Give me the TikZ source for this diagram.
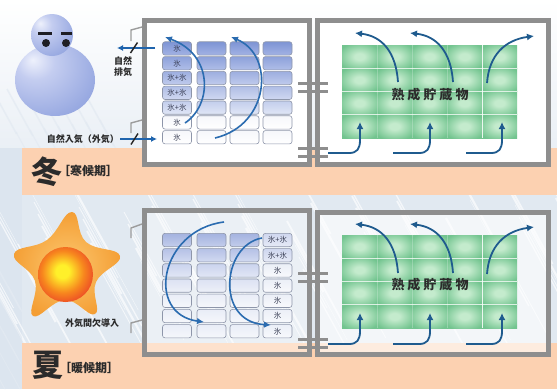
\documentclass[tikz,border=0pt]{standalone}
\usepackage{fontspec}
\newfontfamily\jp{Noto Sans CJK JP}
\usetikzlibrary{arrows.meta}

\definecolor{wallgray}{HTML}{8E8E8E}
\definecolor{flapgray}{HTML}{9C9C9C}
\definecolor{peach}{HTML}{FCD1B1}
\definecolor{arcblue}{HTML}{2B6CB0}
\definecolor{flowblue}{HTML}{1F5B8E}
\definecolor{ventblue}{HTML}{1F64AD}
\definecolor{cellline}{HTML}{8E96AA}
\definecolor{celltext}{HTML}{3A3F55}
\definecolor{textdark}{HTML}{2B2B2B}
\definecolor{greenmid}{HTML}{72C48F}
\definecolor{greenin}{HTML}{C4EBCD}
\definecolor{icebg}{HTML}{DCE5EF}
\definecolor{eyecol}{HTML}{1E1E24}
\definecolor{starin}{HTML}{FCC870}
\definecolor{starout}{HTML}{F49E34}
% stored-goods block shading: soft light centre, even green rim
\pgfdeclareradialshading{greenspot}{\pgfpoint{0bp}{0bp}}{color(0bp)=(greenin); color(7bp)=(greenin); color(31bp)=(greenmid); color(100bp)=(greenmid)}
% snowman shading
\definecolor{snowhi}{HTML}{EEF1FC}
\definecolor{snowmid}{HTML}{C4CDF0}
\definecolor{snowlo}{HTML}{98A9E1}
\definecolor{snowedge}{HTML}{8698D6}
\pgfdeclareradialshading{snowball}{\pgfpoint{-14bp}{14bp}}{color(0bp)=(snowhi); color(12bp)=(snowmid); color(36bp)=(snowlo); color(52bp)=(snowedge); color(100bp)=(snowedge)}
% sun shading
\definecolor{sunY}{HTML}{FFF02A}
\definecolor{sunO}{HTML}{F7861E}
\definecolor{sunR}{HTML}{E8322A}
\definecolor{sunRR}{HTML}{D61F1F}
\pgfdeclareradialshading{sunball}{\pgfpoint{-3bp}{3bp}}{color(0bp)=(sunY); color(6bp)=(sunY); color(19bp)=(sunO); color(33bp)=(sunR); color(50bp)=(sunRR); color(100bp)=(sunRR)}
% ice trays, cold season
\definecolor{wt1}{HTML}{7E94D5}\definecolor{wb1}{HTML}{A2B2E3}
\definecolor{wt2}{HTML}{8DA1DA}\definecolor{wb2}{HTML}{B0BEE8}
\definecolor{wt3}{HTML}{9DAEDF}\definecolor{wb3}{HTML}{C0CBED}
\definecolor{wt4}{HTML}{AFBDE5}\definecolor{wb4}{HTML}{D0D8F1}
\definecolor{wt5}{HTML}{C3CEEC}\definecolor{wb5}{HTML}{E0E6F6}
\definecolor{wt6}{HTML}{F6F7FB}\definecolor{wb6}{HTML}{FFFFFF}
\definecolor{wt7}{HTML}{F6F7FB}\definecolor{wb7}{HTML}{FFFFFF}
% ice trays, warm season
\definecolor{st1}{HTML}{A4B3DF}\definecolor{sb1}{HTML}{C3CDEC}
\definecolor{st2}{HTML}{B5C1E6}\definecolor{sb2}{HTML}{D2DAF1}
\definecolor{st3}{HTML}{CBD4EE}\definecolor{sb3}{HTML}{E1E6F5}
\definecolor{st4}{HTML}{DCE2F3}\definecolor{sb4}{HTML}{EDF0F8}
\definecolor{st5}{HTML}{E9EDF7}\definecolor{sb5}{HTML}{F5F7FB}
\definecolor{st6}{HTML}{E9EDF7}\definecolor{sb6}{HTML}{F5F7FB}
\definecolor{st7}{HTML}{E9EDF7}\definecolor{sb7}{HTML}{F5F7FB}
\definecolor{qt1}{HTML}{CFD7EF}\definecolor{qb1}{HTML}{E6EAF6}
\definecolor{qt2}{HTML}{CFD7EF}\definecolor{qb2}{HTML}{E6EAF6}
\definecolor{qt3}{HTML}{EBEFF7}\definecolor{qb3}{HTML}{F8F9FC}
\definecolor{qt4}{HTML}{EBEFF7}\definecolor{qb4}{HTML}{F8F9FC}
\definecolor{qt5}{HTML}{EBEFF7}\definecolor{qb5}{HTML}{F8F9FC}
\definecolor{qt6}{HTML}{EBEFF7}\definecolor{qb6}{HTML}{F8F9FC}
\definecolor{qt7}{HTML}{EBEFF7}\definecolor{qb7}{HTML}{F8F9FC}

\begin{document}
\begin{tikzpicture}[x=1pt,y=-1pt,
  wall/.style={draw=wallgray,line width=5pt},
  tee/.style={draw=wallgray,line width=3pt},
  flap/.style={draw=flapgray,line width=1.4pt},
  vent/.style={draw=ventblue,line width=1.7pt,-{Latex[length=6pt,width=6pt]}},
  slashmark/.style={draw=black!85,line width=1.4pt},
  arcflow/.style={draw=arcblue,line width=1.6pt,-{Latex[length=7pt,width=6.5pt]}},
  flow/.style={draw=flowblue,line width=1.8pt,-{Latex[length=7pt,width=7pt]}},
  icecell/.style={draw=cellline,line width=0.6pt,rounded corners=2.5pt,
    minimum width=29pt,minimum height=13.3pt,inner sep=0pt,
    font=\jp\fontsize{7.5}{8}\selectfont,text=celltext},
  lbl/.style={inner sep=0pt,font=\jp\bfseries\fontsize{9}{10}\selectfont,text=textdark},
  season/.style={inner sep=0pt,font=\jp\bfseries\fontsize{31}{31}\selectfont,text=textdark},
  period/.style={inner sep=0pt,anchor=west,font=\jp\bfseries\fontsize{12}{12}\selectfont,text=textdark},
  goods/.style={inner sep=0pt,font=\jp\bfseries\fontsize{13}{13}\selectfont,text=textdark},
]
\useasboundingbox (0,0) rectangle (557,389);

% ---------- backgrounds ----------
\fill[white] (0,0) rectangle (557,389);
\shade[top color=white, bottom color=icebg!60] (0,0) rectangle (557,148);
\fill[icebg!85!white] (0,195) rectangle (557,343);
\fill[icebg] (0,148) rectangle (22,389);
% icy streaks, warm-season band
\begin{scope}
  \clip (0,195) rectangle (557,343);
  \foreach \i in {0,...,90}{
    \pgfmathsetmacro{\sx}{mod(\i*53,640)-60}
    \pgfmathsetmacro{\sy}{180+mod(\i*29,90)}
    \pgfmathsetmacro{\slen}{40+mod(\i*17,80)}
    \pgfmathsetmacro{\swid}{0.4+mod(\i*7,5)*0.45}
    \draw[white,opacity=0.65,line width=\swid pt] (\sx,\sy) -- ++({0.55*\slen},\slen);
  }
\end{scope}
% icy streaks, left strip and around the snowman
\begin{scope}
  \clip (0,60) rectangle (140,148) (0,148) rectangle (22,389);
  \foreach \i in {0,...,50}{
    \pgfmathsetmacro{\sx}{mod(\i*23,170)-30}
    \pgfmathsetmacro{\sy}{50+mod(\i*41,330)}
    \pgfmathsetmacro{\slen}{30+mod(\i*13,50)}
    \pgfmathsetmacro{\swid}{0.4+mod(\i*7,4)*0.4}
    \draw[icebg!80!white,opacity=0.7,line width=\swid pt] (\sx,\sy) -- ++({0.55*\slen},\slen);
  }
\end{scope}

% ---------- peach bands ----------
\fill[peach] (22,148) rectangle (557,195);
\fill[peach] (22,343) rectangle (557,389);

% ---------- snowman ----------
\shade[shading=snowball] (55,80) ellipse [x radius=40pt, y radius=36pt];
\shade[shading=snowball] (52,35) circle [radius=21pt];
\fill[eyecol] (38,31.5) rectangle (52,34.5);
\fill[eyecol] (61,31.5) rectangle (72,34.5);
\fill[eyecol] (46,43) circle [radius=4pt];
\fill[eyecol] (66,43) circle [radius=4pt];

% ---------- sun ----------
\shade[inner color=starin, outer color=starout]
  plot[smooth cycle, tension=0.75] coordinates
  {(72,212) (86,242) (120,256) (96,282) (95,314) (65,300) (33,316) (35,281) (14,254) (47,240)};
\shade[shading=sunball] (65.5,274.5) circle [radius=27.5pt];

% ---------- room interiors ----------
\fill[white] (147,23) rectangle (307,162);
\fill[white] (320,23) rectangle (546,162);
\fill[white,opacity=0.35] (147,213) rectangle (307,352);
\fill[white,opacity=0.6] (320,213) rectangle (546,352);

% ---------- ice trays, cold season ----------
\foreach \row/\lab in {1/氷,2/氷,3/氷+氷,4/氷+氷,5/氷+氷,6/氷,7/氷}{
  \foreach \col/\cx in {1/177,2/211.5,3/244.5,4/277.5}{
    \node[icecell, top color=wt\row, bottom color=wb\row] (wc\col\row)
      at (\cx,{48.4+14.8*(\row-1)}) {\ifnum\col=1 \lab\fi};
  }
}
% ---------- ice trays, warm season ----------
\foreach \row/\lab in {1/氷+氷,2/氷+氷,3/氷,4/氷,5/氷,6/氷,7/氷}{
  \foreach \col/\cx in {1/177,2/211.5,3/244.5}{
    \node[icecell, top color=st\row, bottom color=sb\row] (sc\col\row)
      at (\cx,{240+15.2*(\row-1)}) {};
  }
  \node[icecell, top color=qt\row, bottom color=qb\row] (sc4\row)
    at (277.5,{240+15.2*(\row-1)}) {\lab};
}

% ---------- stored goods (green blocks) ----------
\foreach \oy in {0,190}{
  \foreach \col in {0,...,4}{
    \foreach \row in {0,...,3}{
      \shade[shading=greenspot]
        ({342+35*\col},{45+23.25*\row+\oy}) rectangle ++(35,23.25);
    }
  }
  \foreach \row in {1,2,3}{
    \draw[white,opacity=0.75,line width=0.8pt] (342,{45+23.25*\row+\oy}) -- (517,{45+23.25*\row+\oy});
  }
  \foreach \col in {1,2,3}{
    \draw[white,opacity=0.25,line width=0.6pt] ({342+35*\col},{45+\oy}) -- ({342+35*\col},{138+\oy});
  }
  \draw[white,opacity=0.85,line width=1pt] (482,{45+\oy}) -- (482,{138+\oy});
}

% ---------- walls ----------
\draw[wall] (144.5,20.5) rectangle (309.5,164.5);
\draw[wall] (317.5,20.5) rectangle (548.5,164.5);
\draw[wall] (144.5,210.5) rectangle (309.5,354.5);
\draw[wall] (317.5,212.5) rectangle (548.5,354.5);
\foreach \ty in {83,91,148,156,273,281,339,347}{
  \draw[tee] (298,\ty) -- (328,\ty);
}
% vent flaps on the outer wall
\draw[flap] (142,27) -- (131,30) -- (131,41);
\draw[flap] (142,120) -- (131,123) -- (131,133);
\draw[flap] (142,224) -- (131,228) -- (131,238);
\draw[flap] (142,320) -- (131,323) -- (131,333);

% ---------- natural ventilation (cold season) ----------
\coordinate (exIn) at (155,48);
\coordinate (exOut) at (117,48);
\draw[vent] (exIn) -- (exOut);
\draw[slashmark] (130.5,53) -- (137.5,42.5);
\coordinate (inOut) at (120,139);
\coordinate (inIn) at (157,139);
\draw[vent] (inOut) -- (inIn);
\draw[slashmark] (131,144.5) -- (138,133.5);

% ---------- circulation over the ice ----------
\coordinate (wa1s) at (185,123);
\coordinate (wa1e) at (165,37);
\draw[arcflow] (wa1s) .. controls (212,105) and (214,55) .. (wa1e);
\coordinate (wa2s) at (215,138);
\coordinate (wa2e) at (231,37);
\draw[arcflow] (wa2s) .. controls (270,125) and (275,55) .. (wa2e);

\coordinate (sa1s) at (224,222);
\coordinate (sa1e) at (204,322);
\draw[arcflow] (sa1s) .. controls (160,230) and (145,314) .. (sa1e);
\coordinate (sa2s) at (262,238);
\coordinate (sa2e) at (271,325);
\draw[arcflow] (sa2s) .. controls (222,245) and (215,322) .. (sa2e);

% ---------- circulation through the stored goods ----------
\foreach \oy/\tag in {0/w,191/s}{
  \coordinate (\tag u1s) at (328,{153+\oy});
  \coordinate (\tag u1e) at (360,{122+\oy});
  \draw[flow] (\tag u1s) -- (349,{153+\oy}) .. controls (357,{153+\oy}) and (360,{149+\oy}) .. (360,{140+\oy}) -- (\tag u1e);
  \coordinate (\tag u2s) at (393,{153+\oy});
  \coordinate (\tag u2e) at (430,{122+\oy});
  \draw[flow] (\tag u2s) -- (419,{153+\oy}) .. controls (427,{153+\oy}) and (430,{149+\oy}) .. (430,{140+\oy}) -- (\tag u2e);
  \coordinate (\tag u3s) at (466,{153+\oy});
  \coordinate (\tag u3e) at (502,{122+\oy});
  \draw[flow] (\tag u3s) -- (491,{153+\oy}) .. controls (499,{153+\oy}) and (502,{149+\oy}) .. (502,{140+\oy}) -- (\tag u3e);

  \coordinate (\tag t1s) at (398,{82+\oy});
  \coordinate (\tag t1e) at (355,{33+\oy});
  \draw[flow] (\tag t1s) .. controls (396,{52+\oy}) and (382,{36+\oy}) .. (\tag t1e);
  \coordinate (\tag t2s) at (453,{82+\oy});
  \coordinate (\tag t2e) at (410,{33+\oy});
  \draw[flow] (\tag t2s) .. controls (451,{52+\oy}) and (437,{36+\oy}) .. (\tag t2e);
  \coordinate (\tag t3s) at (487,{83+\oy});
  \coordinate (\tag t3e) at (534,{36+\oy});
  \draw[flow] (\tag t3s) .. controls (489,{55+\oy}) and (505,{40+\oy}) .. (\tag t3e);
}

% ---------- texts ----------
\node[goods] (goodsW) at (430,95) {熟\hspace{3pt}成\hspace{3pt}貯\hspace{3pt}蔵\hspace{3pt}物};
\node[goods] (goodsS) at (430,285) {熟\hspace{3pt}成\hspace{3pt}貯\hspace{3pt}蔵\hspace{3pt}物};
\node[lbl] (exTop) at (123,61) {自然};
\node[lbl] (exBot) at (123,72.5) {排気};
\node[lbl,anchor=east] (inLbl) at (119,139) {自然入気（外気）};
\node[lbl] (sumLbl) at (92,323) {外気間欠導入};
\node[season] (winterChar) at (47,172) {冬};
\node[period] (winterSub) at (58,170.5) {［寒候期］};
\node[season] (summerChar) at (48,365) {夏};
\node[period] (summerSub) at (59,368) {［暖候期］};
\end{tikzpicture}
\end{document}
